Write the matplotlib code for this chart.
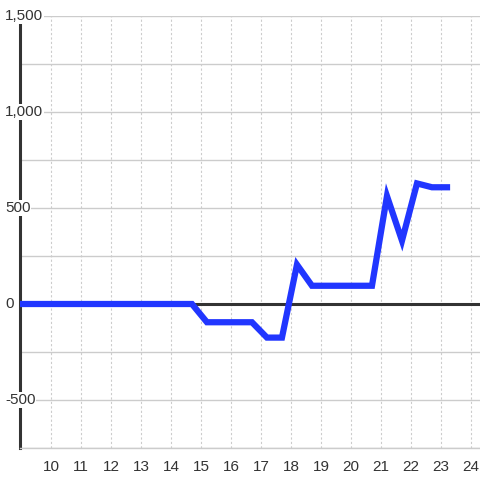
import matplotlib
matplotlib.use('Agg')
import matplotlib.pyplot as plt
from matplotlib.transforms import blended_transform_factory

plt.rcParams['font.family'] = ['Liberation Sans', 'DejaVu Sans']

# half-hour readings
hours = [8.7, 9.2, 9.7, 10.2, 10.7, 11.2, 11.7, 12.2, 12.7, 13.2, 13.7, 14.2, 14.7,
         15.2, 15.7, 16.2, 16.7, 17.2, 17.7, 18.2, 18.7, 19.2, 19.7, 20.2, 20.7,
         21.2, 21.7, 22.2, 22.7, 23.2]
values = [0, 0, 0, 0, 0, 0, 0, 0, 0, 0, 0, 0, 0,
          -95, -95, -95, -95, -175, -175, 205, 95, 95, 95, 95, 95,
          562, 330, 628, 608, 608]

x_ticks = list(range(10, 25))
y_grid = [-750, -500, -250, 0, 250, 500, 750, 1000, 1250, 1500]
y_labels = [-500, 0, 500, 1000, 1500]

fig = plt.figure(figsize=(4.8, 4.8), dpi=100)
ax = fig.add_axes([20 / 480, 32 / 480, 460 / 480, 432 / 480])

ax.set_xlim(8.97, 24.3)
ax.set_ylim(-750, 1500)

ax.set_yticks(y_grid)
ax.set_xticks(x_ticks)
ax.grid(axis='y', color='#cccccc', linewidth=1, linestyle='-')
ax.grid(axis='x', color='#cccccc', linewidth=0.8, linestyle=(0, (2, 2)))
ax.set_axisbelow(True)
ax.tick_params(axis='y', left=False, labelleft=False)
ax.tick_params(axis='x', bottom=False, labelsize=11, colors='#333333', pad=5)

for s in ['top', 'right']:
    ax.spines[s].set_visible(False)
ax.spines['bottom'].set_color('#cccccc')
ax.spines['bottom'].set_linewidth(1)
ax.spines['left'].set_color('#333333')
ax.spines['left'].set_linewidth(2.2)
ax.spines['left'].set_zorder(1)

ax.axhline(0, color='#333333', linewidth=2.2, zorder=2)

ax.plot(hours, values, color='#2136ff', linewidth=4.5, solid_joinstyle='miter',
        zorder=3)

trans = blended_transform_factory(fig.transFigure, ax.transData)
for v in y_labels:
    ax.text(5 / 480, v, f'{v:,}', transform=trans, ha='left', va='center',
            fontsize=11, color='#333333', zorder=5, clip_on=False,
            bbox=dict(facecolor='white', edgecolor='none', pad=0.5))

fig.savefig('out.png', dpi=100)
